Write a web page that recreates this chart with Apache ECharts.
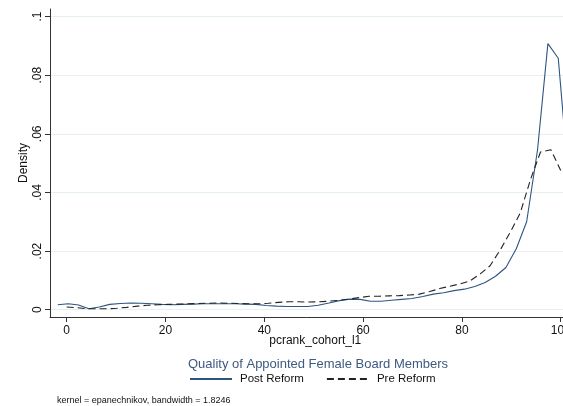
<!DOCTYPE html>
<html>
<head>
<meta charset="utf-8">
<script src="https://cdn.jsdelivr.net/npm/echarts@6/dist/echarts.min.js"></script>
<style>
  html, body { margin: 0; padding: 0; background: #fff; }
  #chart { width: 563px; height: 406px; }
</style>
</head>
<body>
<div id="chart"></div>
<script>
// evaluation points of the two kernel densities
const postX = [-1.8, 0.3, 2.4, 4.5, 6.6, 8.7, 10.9, 13.0, 15.1, 17.2, 19.3, 21.4, 23.5, 25.6, 27.7, 29.9, 32.0, 34.1, 36.2, 38.3,
  40.4, 42.5, 44.6, 46.7, 48.8, 50.9, 53.1, 55.2, 57.3, 59.4, 61.5, 63.6, 65.7, 67.8, 69.9, 72.1, 74.2, 76.3, 78.4, 80.5,
  82.6, 84.7, 86.8, 88.9, 91.0, 93.1, 95.3, 97.4, 99.5, 101.6]
const postY = [.0017, .0020, .0016, .0003, .0009, .0018, .0021, .0023, .0022, .0020, .0018, .0017, .0018, .0019, .0020, .0020, .0020, .0020, .0019, .0018,
  .0014, .0012, .0011, .0011, .0011, .0015, .0023, .0031, .0036, .0035, .0029, .0029, .0032, .0035, .0038, .0045, .0053, .0058, .0065, .0070,
  .0079, .0093, .0114, .0144, .0208, .0300, .0545, .0908, .0858, .0440]

const preX = [0.0, 2.0, 4.1, 6.1, 8.2, 10.2, 12.2, 14.3, 16.3, 18.4, 20.4, 22.4, 24.5, 26.5, 28.6, 30.6, 32.7, 34.7, 36.7, 38.8,
  40.8, 42.9, 44.9, 46.9, 49.0, 51.0, 53.1, 55.1, 57.1, 59.2, 61.2, 63.3, 65.3, 67.3, 69.4, 71.4, 73.5, 75.5, 77.6, 79.6,
  81.6, 83.7, 85.7, 87.8, 89.8, 91.8, 93.9, 95.9, 98.0, 100.0]
const preY = [.0009, .0007, .0003, .0003, .0003, .0005, .0008, .0012, .0015, .0017, .0018, .0019, .0020, .0021, .0022, .0023, .0022, .0021, .0020, .0020,
  .0022, .0025, .0027, .0027, .0026, .0027, .0029, .0032, .0036, .0041, .0046, .0046, .0047, .0048, .0050, .0053, .0062, .0072, .0080, .0088,
  .0098, .0122, .0150, .0205, .0265, .0330, .0445, .0538, .0546, .0475]

const xTicks = [0, 20, 40, 60, 80, 100]
const yTicks = [0, 0.02, 0.04, 0.06, 0.08, 0.1]

const font = 'Liberation Sans, Arial, sans-serif'
const chart = echarts.init(document.getElementById('chart'))

chart.setOption({
  animation: false,
  title: [
    {
      text: 'Quality of Appointed Female Board Members',
      left: 313, top: 353, textAlign: 'center',
      textStyle: { fontFamily: font, fontSize: 13, fontWeight: 'normal', color: '#3d5a80' }
    },
    {
      text: 'kernel = epanechnikov, bandwidth = 1.8246',
      left: 52, top: 391,
      textStyle: { fontFamily: font, fontSize: 9, fontWeight: 'normal', color: '#111' }
    }
  ],
  legend: {
    top: 373, left: 189, padding: 0,
    itemWidth: 42, itemHeight: 10, itemGap: 22,
    itemStyle: { opacity: 0 },
    textStyle: { fontFamily: font, fontSize: 11.5, color: '#111', padding: [0, 0, 0, 3] },
    data: ['Post Reform', 'Pre Reform']
  },
  grid: { left: 50, right: -17.5, top: 9, bottom: 89, outerBoundsMode: 'none' },
  xAxis: {
    type: 'value', min: -3.38, max: 104,
    name: 'pcrank_cohort_l1', nameLocation: 'middle', nameGap: 18, nameMoveOverlap: false,
    nameTextStyle: { fontFamily: font, fontSize: 12, color: '#111', verticalAlign: 'top' },
    axisLine: { show: true, onZero: false, lineStyle: { color: '#333', width: 1 } },
    axisTick: { show: true, length: 5, customValues: xTicks, lineStyle: { color: '#333' } },
    axisLabel: { customValues: xTicks, margin: 8, fontFamily: font, fontSize: 12, color: '#111' },
    splitLine: { show: false }
  },
  yAxis: {
    type: 'value', min: -0.0025, max: 0.1026,
    name: 'Density', nameLocation: 'middle', nameGap: 26, nameMoveOverlap: false,
    nameTextStyle: { fontFamily: font, fontSize: 12, color: '#111', verticalAlign: 'middle' },
    axisLine: { show: true, onZero: false, lineStyle: { color: '#333', width: 1 } },
    axisTick: { show: true, length: 5, customValues: yTicks, lineStyle: { color: '#333' } },
    axisLabel: {
      customValues: yTicks, rotate: 90, margin: 6,
      fontFamily: font, fontSize: 12, color: '#111',
      formatter: v => v === 0 ? '0' : String(+v.toFixed(2)).replace(/^0/, '')
    },
    splitLine: { show: true, lineStyle: { color: '#e6eff1', width: 1 } }
  },
  series: [
    {
      name: 'Post Reform', type: 'line', showSymbol: false, symbol: 'none',
      lineStyle: { color: '#2e5582', width: 1.1 },
      itemStyle: { color: '#2e5582' },
      data: postX.map((x, i) => [x, postY[i]])
    },
    {
      name: 'Pre Reform', type: 'line', showSymbol: false, symbol: 'none',
      lineStyle: { color: '#222', width: 1.1, type: [7, 4] },
      itemStyle: { color: '#222' },
      data: preX.map((x, i) => [x, preY[i]])
    }
  ]
})
</script>
</body>
</html>
